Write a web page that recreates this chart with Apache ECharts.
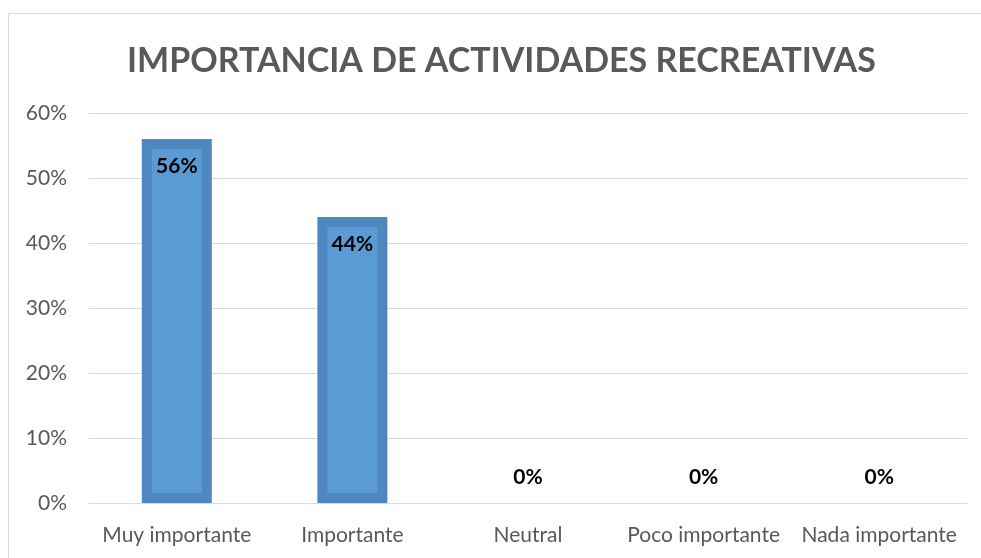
<!DOCTYPE html>
<html>

<head>
    <meta charset="utf-8" />
    <title>Importancia de actividades recreativas</title>
    <script src="https://cdn.jsdelivr.net/npm/echarts@6/dist/echarts.min.js"></script>
    <style>
        html, body { margin: 0; padding: 0; background: #fff; }
        #main { width: 981px; height: 558px; }
    </style>
</head>

<body>
    <div id="main"></div>
    <script type="text/javascript">
        var categories = ['Muy importante', 'Importante', 'Neutral', 'Poco importante', 'Nada importante'];
        var values = [56, 44, 0, 0, 0];
        var yTicks = [0, 10, 20, 30, 40, 50, 60];

        var myChart = echarts.init(document.getElementById('main'));
        var font = 'Lato, sans-serif';

        myChart.setOption({
            animation: false,
            title: {
                text: 'IMPORTANCIA DE ACTIVIDADES RECREATIVAS',
                left: 122,
                top: 39,
                textStyle: { color: '#595959', fontSize: 34, fontWeight: 'bold', fontFamily: font }
            },
            graphic: [{
                type: 'rect',
                shape: { x: 8.5, y: 13.5, width: 1000, height: 600 },
                style: { fill: 'none', stroke: '#d9d9d9', lineWidth: 1 },
                silent: true
            }],
            grid: { left: 89, right: 14, top: 113, bottom: 55 },
            xAxis: {
                type: 'category',
                data: categories,
                axisTick: { show: false },
                axisLine: { lineStyle: { color: '#d9d9d9', width: 1 } },
                axisLabel: { color: '#595959', fontSize: 21, fontFamily: font, margin: 22, interval: 0 }
            },
            yAxis: {
                type: 'value',
                min: yTicks[0],
                max: yTicks[yTicks.length - 1],
                interval: 10,
                axisLine: { show: false },
                axisTick: { show: false },
                splitLine: { lineStyle: { color: '#d9d9d9', width: 1 } },
                axisLabel: { color: '#595959', fontSize: 21, fontFamily: font, margin: 22, formatter: '{value}%' }
            },
            series: [{
                type: 'bar',
                barWidth: 70,
                data: values.map(function (v) {
                    if (v === 0) {
                        return {
                            value: v,
                            itemStyle: { borderWidth: 0 },
                            label: { position: 'top', distance: 15 }
                        };
                    }
                    return v;
                }),
                itemStyle: { color: '#5b9bd5', borderColor: '#4f88be', borderWidth: 10 },
                label: {
                    show: true,
                    position: 'insideTop',
                    distance: 17,
                    formatter: '{c}%',
                    color: '#000',
                    fontSize: 21,
                    fontWeight: 'bold',
                    fontFamily: font
                }
            }]
        });
    </script>
</body>

</html>
